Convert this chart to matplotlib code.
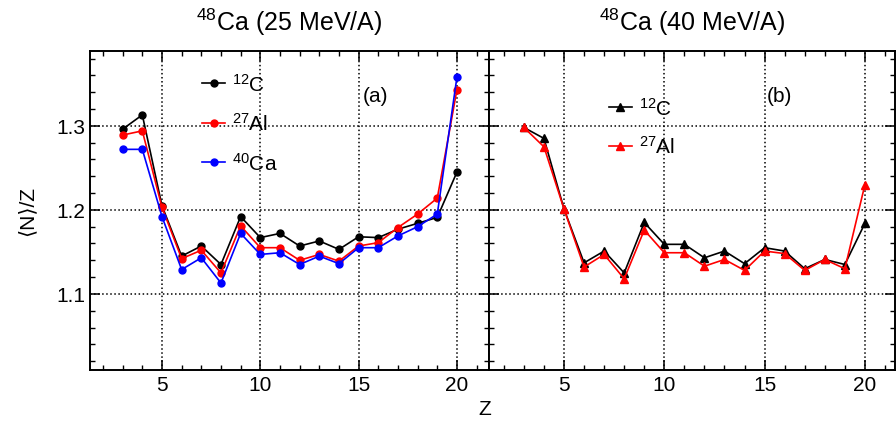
import matplotlib

matplotlib.use("Agg")
import matplotlib.pyplot as plt
from matplotlib.ticker import MultipleLocator

plt.rcParams["font.family"] = ["Liberation Sans", "DejaVu Sans"]
plt.rcParams["mathtext.fontset"] = "custom"
plt.rcParams["mathtext.rm"] = "Liberation Sans"
plt.rcParams["mathtext.it"] = "Liberation Sans"
plt.rcParams["mathtext.bf"] = "Liberation Sans"

# 数据：Z 与 <N>/Z
z = list(range(3, 21))

c12_25 = [1.296, 1.313, 1.205, 1.145, 1.157, 1.135, 1.192, 1.167, 1.172,
          1.157, 1.163, 1.153, 1.168, 1.167, 1.177, 1.184, 1.191, 1.245]
al27_25 = [1.289, 1.294, 1.203, 1.142, 1.152, 1.125, 1.181, 1.155, 1.155,
           1.140, 1.147, 1.139, 1.157, 1.161, 1.179, 1.195, 1.214, 1.343]
ca40_25 = [1.272, 1.272, 1.192, 1.129, 1.143, 1.113, 1.172, 1.147, 1.149,
           1.135, 1.145, 1.136, 1.155, 1.155, 1.169, 1.180, 1.195, 1.358]

c12_40 = [1.298, 1.285, 1.201, 1.137, 1.151, 1.125, 1.185, 1.159, 1.159,
          1.143, 1.151, 1.136, 1.155, 1.151, 1.130, 1.141, 1.135, 1.184]
al27_40 = [1.298, 1.275, 1.201, 1.132, 1.147, 1.118, 1.176, 1.149, 1.149,
           1.133, 1.141, 1.128, 1.151, 1.148, 1.128, 1.141, 1.130, 1.230]

titles = [r"$^{48}$Ca (25 MeV/A)", r"$^{48}$Ca (40 MeV/A)"]
panel_tags = ["(a)", "(b)"]

W, H = 896, 427
fig = plt.figure(figsize=(W / 100, H / 100), dpi=100)
ax1 = fig.add_axes([90 / W, 1 - 371 / H, 399 / W, 319 / H])
ax2 = fig.add_axes([489 / W, 1 - 371 / H, 406 / W, 319 / H])

ax1.plot(z, c12_25, "-o", color="black", ms=5, lw=1.2, label=r"$^{12}$C")
ax1.plot(z, al27_25, "-o", color="red", ms=5, lw=1.2, label=r"$^{27}$Al")
ax1.plot(z, ca40_25, "-o", color="blue", ms=5, lw=1.2, label=r"$^{40}$Ca")

ax2.plot(z, c12_40, "-^", color="black", ms=6, lw=1.2, label=r"$^{12}$C")
ax2.plot(z, al27_40, "-^", color="red", ms=6, lw=1.2, label=r"$^{27}$Al")

ax1.set_xlim(1.34, 21.63)
ax2.set_xlim(1.26, 21.5)

for i, ax in enumerate([ax1, ax2]):
    ax.set_ylim(1.0095, 1.389)
    ax.xaxis.set_major_locator(MultipleLocator(5))
    ax.xaxis.set_minor_locator(MultipleLocator(1))
    ax.yaxis.set_major_locator(MultipleLocator(0.1))
    ax.yaxis.set_minor_locator(MultipleLocator(0.02))
    ax.tick_params(which="both", direction="in", top=True, right=True,
                   labelsize=15)
    ax.tick_params(which="major", length=7, width=1.1)
    ax.tick_params(which="minor", length=3.5, width=1.0)
    ax.grid(True, which="major", linestyle=":", color="black", lw=1.1)
    for sp in ax.spines.values():
        sp.set_linewidth(1.4)
    ax.text(0.5, 1.0 + 30 / 319, titles[i], transform=ax.transAxes,
            ha="center", va="center", fontsize=18)
    ax.text(0.715, 0.86, panel_tags[i], transform=ax.transAxes,
            ha="center", va="center", fontsize=15)

ax2.tick_params(labelleft=False)
ax1.set_ylabel("\u27e8N\u27e9/Z", fontsize=15, labelpad=14)
fig.text(485 / W, 1 - 410 / H, "Z", ha="center", va="center", fontsize=15)

ax1.legend(loc="upper left", bbox_to_anchor=(0.255, 0.965), frameon=False,
           fontsize=15, handlelength=1.1, handletextpad=0.35,
           labelspacing=0.85, borderpad=0)
ax2.legend(loc="upper left", bbox_to_anchor=(0.27, 0.89), frameon=False,
           fontsize=15, handlelength=1.1, handletextpad=0.35,
           labelspacing=0.8, borderpad=0)

fig.savefig("out.png", dpi=100)
